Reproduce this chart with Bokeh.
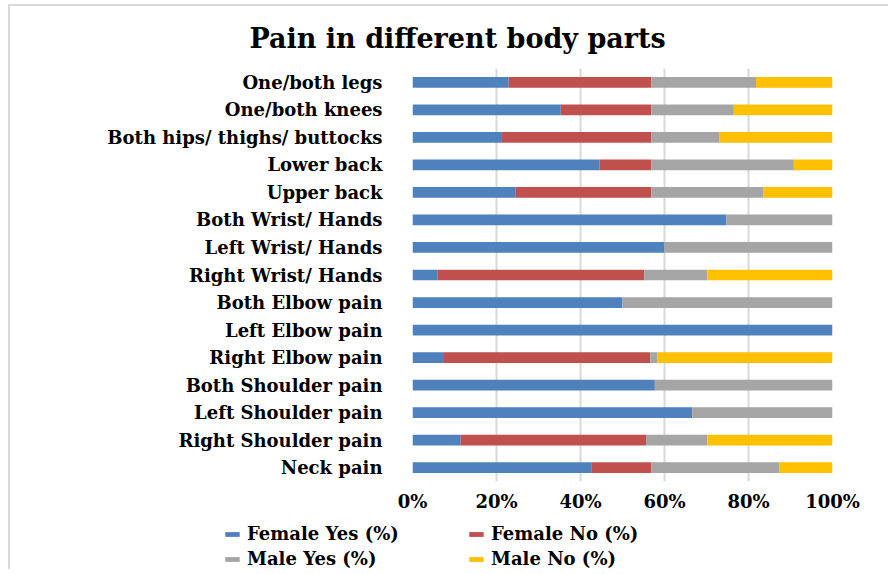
from bokeh.plotting import figure
from bokeh.models import ColumnDataSource, Legend, LegendItem, FactorRange
from bokeh.embed import file_html
from bokeh.resources import INLINE

# Categories listed bottom -> top
parts = ["Neck pain", "Right Shoulder pain", "Left Shoulder pain", "Both Shoulder pain",
         "Right Elbow pain", "Left Elbow pain", "Both Elbow pain", "Right Wrist/ Hands",
         "Left Wrist/ Hands", "Both Wrist/ Hands", "Upper back", "Lower back",
         "Both hips/ thighs/ buttocks", "One/both knees", "One/both legs"]
female_yes = [42.7, 11.4, 66.6, 57.7, 7.5, 100.0, 50.0, 6.0, 60.0, 74.7, 24.6, 44.5, 21.1, 35.3, 22.9]
female_no  = [14.2, 44.2, 0.0, 0.0, 49.1, 0.0, 0.0, 49.2, 0.0, 0.0, 32.3, 12.4, 35.8, 21.6, 34.0]
male_yes   = [30.4, 14.6, 33.4, 42.3, 1.7, 0.0, 50.0, 15.0, 40.0, 25.3, 26.7, 33.9, 16.1, 19.6, 24.9]
male_no    = [12.7, 29.8, 0.0, 0.0, 41.7, 0.0, 0.0, 29.8, 0.0, 0.0, 16.4, 9.2, 27.0, 23.5, 18.2]
series_names = ["Female Yes (%)", "Female No (%)", "Male Yes (%)", "Male No (%)"]
tick_values = [0, 20, 40, 60, 80, 100]
tick_labels = ["0%", "20%", "40%", "60%", "80%", "100%"]
title_text = "Pain in different body parts"

colors = ["#4F81BD", "#C0504D", "#A5A5A5", "#FFC000"]
keys = ["fy", "fn", "my", "mn"]
source = ColumnDataSource(dict(part=parts, fy=female_yes, fn=female_no, my=male_yes, mn=male_no))

FONT = "DejaVu Serif"
BORDER = "2px solid #d9d9d9"

# ---- main chart ----
p = figure(width=880, height=511, y_range=FactorRange(*parts), x_range=(0, 100),
           output_backend="svg", toolbar_location=None,
           min_border_left=402, min_border_right=58, min_border_top=58, min_border_bottom=36)
p.styles = {"border-top": BORDER, "border-left": BORDER, "margin-left": "8px", "margin-top": "4px"}

p.hbar_stack(keys, y="part", height=0.39, color=colors, source=source, line_color=None)

p.title.text = title_text
p.title.align = "left"
p.title.offset = -163
p.title.text_font = FONT
p.title.text_font_size = "27px"
p.title.text_font_style = "bold"
p.title.text_color = "#000000"
p.title.standoff = 29

p.outline_line_color = None
p.ygrid.grid_line_color = None
p.xgrid.grid_line_color = "#d9d9d9"
p.xgrid.grid_line_width = 2
p.xaxis.ticker = tick_values
p.xaxis.major_label_overrides = {v: l for v, l in zip(tick_values, tick_labels)}
for ax in (p.xaxis[0], p.yaxis[0]):
    ax.axis_line_color = None
    ax.major_tick_line_color = None
    ax.minor_tick_line_color = None
    ax.major_tick_out = 0
    ax.major_tick_in = 0
    ax.major_label_text_font = FONT
    ax.major_label_text_font_style = "bold"
    ax.major_label_text_font_size = "18px"
    ax.major_label_text_color = "#000000"
p.yaxis.major_label_standoff = 30
p.xaxis.major_label_standoff = 9

# ---- legend strip (same series; its y range holds none of the parts, so no bars show) ----
lf = figure(width=880, height=54, y_range=FactorRange("legend"), x_range=(0, 100),
            output_backend="svg", toolbar_location=None,
            min_border_left=0, min_border_right=0, min_border_top=0, min_border_bottom=0,
            x_axis_location=None, y_axis_location=None)
lf.styles = {"border-left": BORDER, "margin-left": "8px"}
lf.outline_line_color = None
lf.grid.grid_line_color = None
lrs = lf.hbar_stack(keys, y="part", height=0.4, color=colors, source=source, line_color=None)

legend_kw = dict(label_text_font=FONT, label_text_font_style="bold", label_text_font_size="18px",
                 label_text_color="#000000", glyph_width=18, glyph_height=6, label_standoff=6,
                 spacing=4, padding=0, margin=0, border_line_color=None, background_fill_alpha=0)
leg_a = Legend(items=[LegendItem(label=series_names[0], renderers=[lrs[0]]),
                      LegendItem(label=series_names[2], renderers=[lrs[2]])],
               location=(213, 0), **legend_kw)
leg_b = Legend(items=[LegendItem(label=series_names[1], renderers=[lrs[1]]),
                      LegendItem(label=series_names[3], renderers=[lrs[3]])],
               location=(457, 0), **legend_kw)
lf.add_layout(leg_a, "center")
lf.add_layout(leg_b, "center")

open("out.html", "w").write(file_html([p, lf], INLINE))
